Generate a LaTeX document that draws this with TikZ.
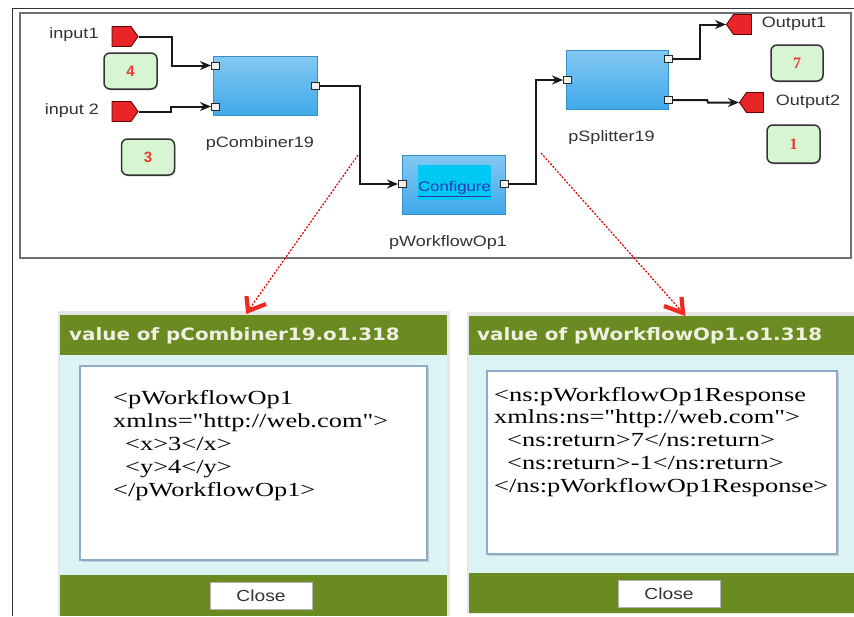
\documentclass[tikz,border=0pt]{standalone}
\usepackage{fontspec}
\setmainfont{Liberation Sans}
\newfontfamily\lblfont[FakeStretch=1.2]{Liberation Sans}
\newfontfamily\hdrfont[FakeStretch=1.17]{DejaVu Sans}
\newfontfamily\codefont[FakeStretch=1.32,Ligatures={TeXOff,CommonOff}]{Liberation Serif}
\newfontfamily\digfont{Liberation Serif}
\usetikzlibrary{arrows.meta,shapes.symbols,shadows}
\definecolor{hdrgreen}{HTML}{6A8B22}
\definecolor{panelcyan}{HTML}{DDF4F6}
\definecolor{boxgreen}{HTML}{D8F5D3}
\definecolor{sigred}{HTML}{E8262A}
\definecolor{blueTop}{HTML}{84C8F2}
\definecolor{blueBot}{HTML}{40A9EA}
\definecolor{cfgcyan}{HTML}{00C8F4}
\definecolor{linkblue}{HTML}{3434A8}
\definecolor{digred}{HTML}{E83A30}
\definecolor{hdrtext}{HTML}{F0F0E2}
\definecolor{frameGray}{HTML}{707070}
\definecolor{wbBorder}{HTML}{8FA9C9}
\definecolor{panelEdge}{HTML}{E6E6E6}
\definecolor{ptrred}{HTML}{F02A20}
\begin{document}
\begin{tikzpicture}[x=1pt,y=-1pt,
  lbl/.style={font=\lblfont\fontsize{15}{18}\selectfont, text=black!80, inner sep=0pt},
  blk/.style={rectangle, draw=blueBot!85!black, line width=0.6pt, top color=blueTop, bottom color=blueBot, inner sep=0pt},
  port/.style={rectangle, draw=black!85, fill=black!6, line width=1pt, minimum width=8pt, minimum height=7pt, inner sep=0pt},
  sig/.style={signal, fill=sigred, draw=black!60!red, line width=0.9pt, inner sep=0pt, signal pointer angle=110, minimum width=26pt, minimum height=20pt},
  valbox/.style={rectangle, rounded corners=6pt, fill=boxgreen, draw=black!80, line width=1.5pt, minimum width=53pt, minimum height=36pt, inner sep=0pt, drop shadow={opacity=0.25, shadow xshift=1pt, shadow yshift=-1.5pt}},
  wire/.style={draw=black!90, line width=2pt, -{Stealth[length=11pt,width=9pt]}},
  reddash/.style={draw=red!85!black, line width=1.2pt, dash pattern=on 2pt off 1.5pt},
  barb/.style={draw=ptrred, line width=4.2pt, line join=miter, line cap=butt},
  hdr/.style={font=\hdrfont\bfseries\fontsize{17}{20}\selectfont, text=hdrtext, inner sep=0pt, anchor=west},
  code/.style={font=\codefont\fontsize{20}{23}\selectfont, text=black, inner sep=0pt, anchor=base west},
  closebtn/.style={rectangle, fill=white, draw=black!30, line width=0.6pt, minimum width=102pt, minimum height=27pt, inner sep=0pt, font=\lblfont\fontsize{16}{18}\selectfont, text=black!80},
  wbox/.style={fill=white, draw=wbBorder, line width=1.4pt, drop shadow={opacity=0.3, shadow xshift=1.5pt, shadow yshift=-1.5pt}}
]
\useasboundingbox (0,0) rectangle (854,616);
\fill[white] (0,0) rectangle (854,616);

% frames
\draw[black!80, line width=1pt] (12,616) -- (12,8) -- (854,8);
\draw[frameGray, line width=2pt] (20,13) rectangle (851,258);

% input signals and labels
\node[sig, signal to=east] (in1) at (121.5,36.5) {};
\node[sig, signal to=east] (in2) at (121.5,111.5) {};
\node[lbl] (in1l) at (74,35) {input1};
\node[lbl] (in2l) at (72,111) {input 2};

% value boxes
\node[valbox] (g4) at (130.5,71) {\fontsize{15}{18}\selectfont\bfseries\textcolor{digred}{4}};
\node[valbox] (g3) at (148,157) {\fontsize{15}{18}\selectfont\bfseries\textcolor{digred}{3}};
\node[valbox, minimum width=52pt] (g7) at (797,63) {\digfont\fontsize{16}{18}\selectfont\bfseries\textcolor{digred}{7}};
\node[valbox, minimum height=38pt] (g1) at (793.5,144) {\digfont\fontsize{16}{18}\selectfont\bfseries\textcolor{digred}{1}};

% blocks
\node[blk, minimum width=104pt, minimum height=59pt] (comb) at (265,85.5) {};
\node[blk, minimum width=103pt, minimum height=59pt] (wf) at (453.5,184.5) {};
\node[blk, minimum width=102pt, minimum height=59pt] (spl) at (617,79.5) {};
\node[rectangle, fill=cfgcyan, minimum width=73pt, minimum height=35pt, inner sep=0pt] (cfg) at (454.5,182.5) {};
\node[inner sep=0pt, font=\lblfont\fontsize{14}{16}\selectfont, text=linkblue] (cfgt) at (454.5,189) {\underline{Configure}};

\node[lbl] (combl) at (260,144) {pCombiner19};
\node[lbl] (wfl) at (448,243) {pWorkflowOp1};
\node[lbl] (spll) at (611.5,138) {pSplitter19};
\node[lbl] (out1l) at (794,24) {Output1};
\node[lbl] (out2l) at (808,102) {Output2};

% ports
\node[port] (ci1) at (215.5,65.5) {};
\node[port] (ci2) at (215.5,106.5) {};
\node[port] (co) at (315.5,86) {};
\node[port] (wi) at (402.5,184) {};
\node[port] (wo) at (504.5,184) {};
\node[port] (si) at (567.5,80) {};
\node[port] (so1) at (668.5,59) {};
\node[port] (so2) at (668.5,100) {};

% output signals
\node[sig, signal to=west, minimum width=25pt] (out1) at (742.5,24.5) {};
\node[sig, signal to=west, minimum width=24pt] (out2) at (755,102.5) {};

% wires
\draw[wire] (in1.east) -| (172,52) |- (ci1.west);
\draw[wire] (in2.east) -| (171,109) |- (ci2.west);
\draw[wire] (co.east) -| (360,130) |- (wi.west);
\draw[wire] (wo.east) -| (536,130) |- (si.west);
\draw[wire] (so1.east) -| (700,40) |- (out1.west);
\draw[wire] (so2.east) -- (707,100) -- (708,102.5) -- (out2.west);

% dashed pointers
\coordinate (d1s) at (358,155);
\coordinate (d1e) at (248,311);
\coordinate (d1a) at (246.5,296);
\coordinate (d1b) at (266,304);
\coordinate (d2s) at (541,153);
\coordinate (d2e) at (683,313);
\coordinate (d2a) at (664,306);
\coordinate (d2b) at (681.5,297);

% left panel
\fill[panelEdge] (58,311) rectangle (450,616);
\fill[hdrgreen] (60,315) rectangle (447,355);
\fill[panelcyan] (60,355) rectangle (447,575);
\fill[hdrgreen] (60,575) rectangle (447,616);
\path[wbox] (80,366) rectangle (427,560);
\node[hdr] (lh) at (69,336) {value of pCombiner19.o1.318};
\node[code] (lc1) at (113,404) {<pWorkflowOp1};
\node[code] (lc2) at (113,427) {xmlns="http://web.com">};
\node[code] (lc3) at (125,450) {<x>3</x>};
\node[code] (lc4) at (125,473) {<y>4</y>};
\node[code] (lc5) at (113,496) {</pWorkflowOp1>};
\node[closebtn] (lclose) at (261,595.5) {Close};

% right panel
\fill[panelEdge] (467,312) rectangle (854,614);
\fill[hdrgreen] (469,316) rectangle (854,355);
\fill[panelcyan] (469,355) rectangle (854,573);
\fill[hdrgreen] (469,573) rectangle (854,613);
\path[wbox] (487,371) rectangle (837,554);
\node[hdr] (rh) at (477,336) {value of pWorkflowOp1.o1.318};
\node[code] (rc1) at (494,401) {<ns:pWorkflowOp1Response};
\node[code] (rc2) at (494,423.75) {xmlns:ns="http://web.com">};
\node[code] (rc3) at (507,446.5) {<ns:return>7</ns:return>};
\node[code] (rc4) at (507,469.25) {<ns:return>-1</ns:return>};
\node[code] (rc5) at (494,492) {</ns:pWorkflowOp1Response>};
\node[closebtn] (rclose) at (669,594) {Close};

\draw[reddash] (d1s) -- (d1e);
\draw[barb] (d1a) -- (d1e) -- (d1b);
\draw[reddash] (d2s) -- (d2e);
\draw[barb] (d2a) -- (d2e) -- (d2b);
\end{tikzpicture}
\end{document}
